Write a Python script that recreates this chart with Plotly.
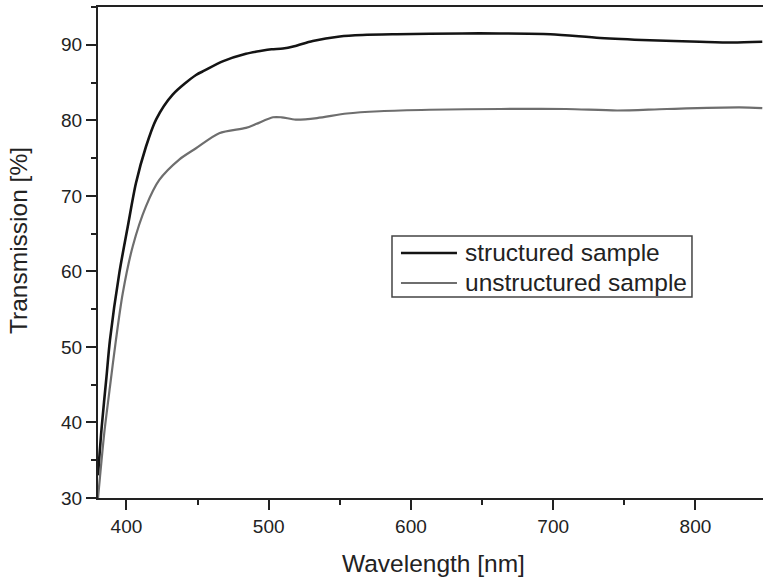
import plotly.graph_objects as go

# Transmission spectra of the two samples
wl_structured = [380, 382.6, 386, 388.4, 395, 400.9, 406.7, 413.7, 420.8, 432.5, 448.9,
                 455, 467.6, 484, 495, 502, 510, 518, 531, 550, 566, 590, 636, 662,
                 698, 733, 768, 803, 826, 847]
t_structured = [33.0, 39.4, 46.1, 50.9, 59.8, 65.9, 71.7, 76.5, 80.1, 83.4, 86.0,
                86.6, 87.8, 88.8, 89.2, 89.4, 89.5, 89.8, 90.5, 91.1, 91.3, 91.4, 91.5, 91.5,
                91.4, 90.9, 90.6, 90.4, 90.3, 90.4]

wl_unstructured = [380, 381.4, 384.4, 388.4, 392.6, 397.4, 404.4, 413.7, 423.1, 437.1,
                   448.9, 465.2, 484, 491, 503, 509, 519, 534, 555, 578, 613, 663, 709,
                   745, 780, 831, 847]
t_unstructured = [30.0, 32.8, 38.6, 44.7, 50.9, 57.1, 63.3, 68.6, 72.1, 74.8,
                  76.3, 78.3, 79.0, 79.5, 80.4, 80.4, 80.1, 80.3, 80.9, 81.2, 81.4, 81.5, 81.5,
                  81.3, 81.5, 81.7, 81.6]

series_names = ["structured sample", "unstructured sample"]
x_ticks = [400, 500, 600, 700, 800]
y_ticks = [30, 40, 50, 60, 70, 80, 90]

FONT = "Liberation Sans, Arial, sans-serif"
INK = "#222222"
styles = [dict(color="#141414", width=2.6), dict(color="#6e6e6e", width=2.2)]

fig = go.Figure()
for name, xs, ys, st in zip(series_names,
                            [wl_structured, wl_unstructured],
                            [t_structured, t_unstructured], styles):
    fig.add_trace(go.Scatter(
        x=xs, y=ys, mode="lines", name=name, showlegend=False,
        line=dict(**st, shape="spline", smoothing=0.8),
    ))

axis_common = dict(
    showgrid=False, zeroline=False, showline=True, linewidth=2, linecolor=INK,
    ticks="outside", tickwidth=2, tickcolor=INK, ticklen=10,
    tickfont=dict(family=FONT, size=19, color=INK),
)

fig.update_xaxes(
    **axis_common, range=[380, 847.5], tickvals=x_ticks, mirror=True,
    minor=dict(ticks="outside", dtick=50, tick0=400, ticklen=5, tickwidth=2, tickcolor=INK),
)
fig.update_yaxes(
    **axis_common, range=[30, 95], tickvals=y_ticks,
    minor=dict(ticks="outside", dtick=5, tick0=30, ticklen=5, tickwidth=2, tickcolor=INK),
)

# Axis titles placed as paper-referenced annotations
fig.add_annotation(
    text="Wavelength [nm]", xref="paper", yref="paper", x=0.5045, y=-0.134,
    xanchor="center", yanchor="middle", showarrow=False,
    font=dict(family=FONT, size=24.5, color=INK),
)
fig.add_annotation(
    text="Transmission [%]", xref="paper", yref="paper", x=-0.1188, y=0.5255,
    xanchor="center", yanchor="middle", showarrow=False, textangle=-90,
    font=dict(family=FONT, size=24.5, color=INK),
)

# Legend box with line samples and labels (paper coordinates)
box_x0, box_x1, box_y0, box_y1 = 0.4421, 0.8932, 0.4094, 0.5336
sample_x0, sample_x1, label_x = 0.4556, 0.5398, 0.5489
row_y = [0.4990, 0.4379]
fig.add_shape(type="rect", xref="paper", yref="paper",
              x0=box_x0, x1=box_x1, y0=box_y0, y1=box_y1,
              line=dict(color="#444444", width=1.5), fillcolor="white", layer="above")
for name, st, ry in zip(series_names, styles, row_y):
    fig.add_shape(type="line", xref="paper", yref="paper",
                  x0=sample_x0, x1=sample_x1, y0=ry, y1=ry, line=st, layer="above")
    fig.add_annotation(text=name, xref="paper", yref="paper", x=label_x, y=ry,
                       xanchor="left", yanchor="middle", showarrow=False,
                       font=dict(family=FONT, size=24.5, color=INK))

fig.update_layout(
    width=763, height=578,
    margin=dict(l=98, r=0, t=7, b=80),
    paper_bgcolor="white", plot_bgcolor="white",
    font=dict(family=FONT, color=INK),
    showlegend=False,
)

fig.write_html("out.html")
